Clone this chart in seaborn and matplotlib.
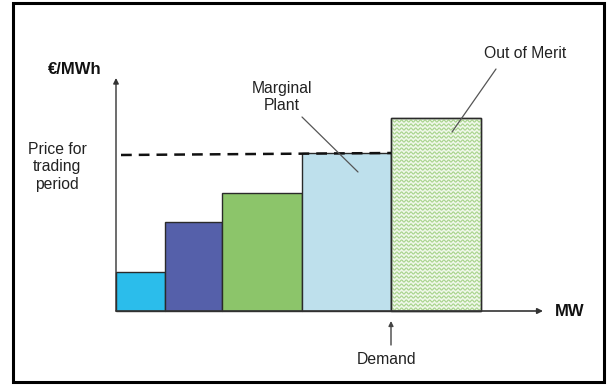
import numpy as np
import matplotlib
matplotlib.use("Agg")
import matplotlib.pyplot as plt
from matplotlib.patches import Rectangle
import seaborn as sns
import pandas as pd

# ---- data (arbitrary units) ----
plants = ["Plant 1", "Plant 2", "Plant 3", "Marginal Plant", "Out of Merit"]
capacity_mw = [49, 57, 80, 89, 90]          # bar widths (MW)
price = [39, 89, 118, 158, 193]             # bar heights (EUR/MWh)
bar_colors = ["#2BBDEB", "#5560AA", "#8CC56A", "#BEE0EC", "#F0F8EA"]
marginal_index = 3

sns.set_theme(style="white")
plt.rcParams['font.family'] = ['Liberation Sans', 'DejaVu Sans']

fig = plt.figure(figsize=(6.08, 3.85), dpi=100)
ax = fig.add_axes([0, 0, 1, 1])
ax.set_xlim(-116, 608 - 116)
ax.set_ylim(311 - 385, 311)
ax.set_axis_off()

lefts = np.concatenate([[0], np.cumsum(capacity_mw)[:-1]])
bars = ax.bar(lefts, price, width=capacity_mw, align="edge",
              color=bar_colors, edgecolor="#2a2a2a", linewidth=1.0, zorder=2)

# wavy texture for the out-of-merit plant
oom = bars[-1]
x0, w, h = lefts[-1], capacity_mw[-1], price[-1]
xs = np.linspace(x0, x0 + w, 400)
for yy in np.arange(2, h + 4, 4.0):
    ln, = ax.plot(xs, yy + 1.1 * np.sin(2 * np.pi * (xs - x0) / 4.7),
                  color="#A6D28A", lw=0.8, zorder=3)
    ln.set_clip_path(oom)
ax.add_patch(Rectangle((x0, 0), w, h, fill=False, edgecolor="#2a2a2a",
                       lw=1.0, zorder=4))

# clearing price dashed line
clearing = price[marginal_index]
demand = lefts[marginal_index] + capacity_mw[marginal_index]
line_df = pd.DataFrame({"x": [5, demand], "y": [clearing - 2, clearing]})
sns.lineplot(data=line_df, x="x", y="y", ax=ax, color="#111111", lw=1.8,
             dashes=False, zorder=5)
ax.lines[-1].set_dashes((4.3, 2.8))

# axes with arrows
ax.annotate("", xy=(0, 233), xytext=(0, 0),
            arrowprops=dict(arrowstyle="-|>", color="#333333", lw=1.0,
                            mutation_scale=8, shrinkA=0, shrinkB=0), zorder=6)
ax.annotate("", xy=(427, 0), xytext=(0, 0),
            arrowprops=dict(arrowstyle="-|>", color="#333333", lw=1.2,
                            mutation_scale=8, shrinkA=0, shrinkB=0), zorder=6)
# demand arrow
ax.annotate("", xy=(demand, -10), xytext=(demand, -34),
            arrowprops=dict(arrowstyle="-|>", color="#444444", lw=1.0,
                            mutation_scale=7, shrinkA=0, shrinkB=0))

fs = 11.3
ax.text(-41.5, 241, "€/MWh", fontsize=12, fontweight="bold", ha="center",
        va="center", color="#111111")
ax.text(454, -1, "MW", fontsize=12, fontweight="bold", ha="center",
        va="center", color="#111111")
ax.text(-59, 144, "Price for\ntrading\nperiod", fontsize=fs, ha="center",
        va="center", linespacing=1.25, color="#222222")
ax.text(166, 214, "Marginal\nPlant", fontsize=fs, ha="center", va="center",
        linespacing=1.1, color="#222222")
ax.text(409, 258, "Out of Merit", fontsize=fs, ha="center", va="center",
        color="#222222")
ax.text(271, -48, "Demand", fontsize=fs, ha="center", va="center",
        color="#222222")

# leader lines
ax.plot([186, 242], [194, 139], color="#555555", lw=0.9, zorder=7)
ax.plot([380, 336], [242, 179], color="#555555", lw=0.9, zorder=7)

# outer frame
fig.patches.append(Rectangle((13 / 608, 3 / 385), 591 / 608, 379 / 385,
                             transform=fig.transFigure, fill=False,
                             edgecolor="black", lw=2.2))

fig.savefig("out.png", dpi=100)
